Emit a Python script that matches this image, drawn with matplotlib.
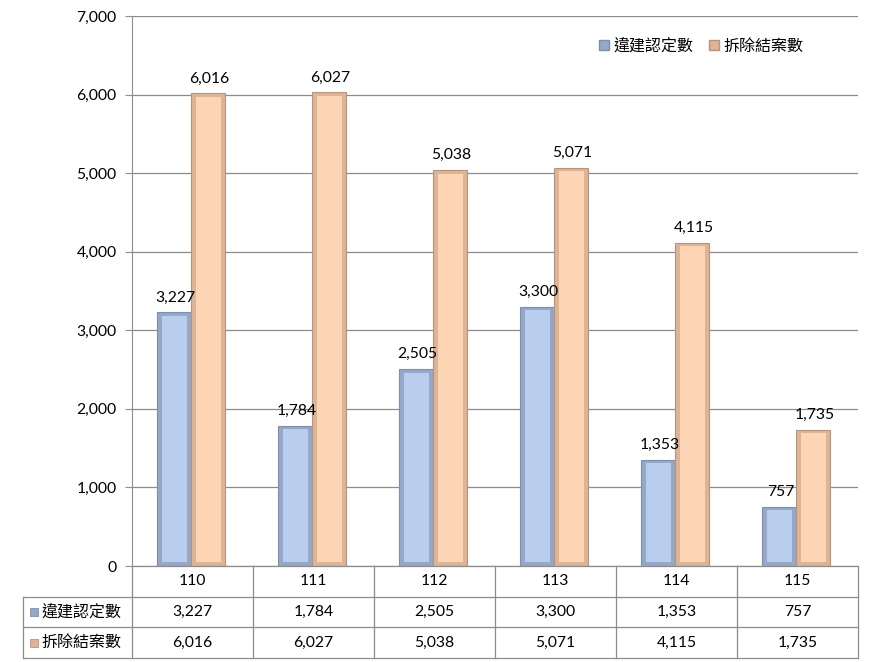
import matplotlib
matplotlib.use("Agg")
import matplotlib.pyplot as plt
import numpy as np
from matplotlib.patches import Patch

plt.rcParams['font.family'] = ['Lato', 'Noto Sans CJK TC', 'DejaVu Sans']

# data
years = ['110', '111', '112', '113', '114', '115']
series_names = ['違建認定數', '拆除結案數']
illegal = [3227, 1784, 2505, 3300, 1353, 757]
demolished = [6016, 6027, 5038, 5071, 4115, 1735]
yticks = [0, 1000, 2000, 3000, 4000, 5000, 6000, 7000]

face_colors = ['#B9CDEE', '#FDD5B4']
edge_colors = ['#7F8FAA', '#B8937A']
mid_colors = ['#95A8C8', '#DDB496']

num_fs = 11.3
cjk_fs = 11.5

W, H = 882, 662
fig = plt.figure(figsize=(W / 100, H / 100), dpi=100)

left, right, top, bottom = 132, 858, 16, 566
ax = fig.add_axes([left / W, 1 - bottom / H, (right - left) / W, (bottom - top) / H])

x = np.arange(len(years))
bw = 0.28
offsets = [-bw / 2, bw / 2]
dx = 0.035
dy = 45

for vals, off, fc, ec, mc in zip([illegal, demolished], offsets, face_colors, edge_colors, mid_colors):
    # bevel look: darker outer bar, lighter inner face
    ax.bar(x + off - 0.01, vals, width=bw, color=mc, edgecolor=ec, linewidth=0.8, zorder=3)
    inner = [max(v - 2 * dy, 0) for v in vals]
    ax.bar(x + off - 0.01, inner, width=bw - 2 * dx, bottom=dy, color=fc, linewidth=0, zorder=4)
    for xi, v in zip(x + off, vals):
        ax.text(xi, v + 100, f'{v:,}', ha='center', va='bottom', fontsize=num_fs, zorder=5)

ax.set_xlim(-0.5, len(years) - 0.5)
ax.set_ylim(0, 7000)
ax.set_yticks(yticks)
ax.set_yticklabels([f'{t:,}' for t in yticks], fontsize=num_fs)
ax.set_xticks([])
ax.yaxis.grid(True, color='#8C8C8C', linewidth=0.9, zorder=0)
ax.tick_params(axis='y', length=5, color='#8C8C8C', pad=6)
for s in ['top', 'right', 'bottom']:
    ax.spines[s].set_visible(False)
ax.spines['left'].set_color('#8C8C8C')

# legend
handles = [Patch(facecolor=mc, edgecolor=ec) for mc, ec in zip(mid_colors, edge_colors)]
ax.legend(handles, series_names, loc='upper right', bbox_to_anchor=(0.945, 0.985), ncol=2,
          frameon=False, fontsize=cjk_fs, handlelength=0.6, handleheight=0.6,
          handletextpad=0.3, columnspacing=1.0)

# data table
tb_top, tb_bottom = 566, 658
tax = fig.add_axes([left / W, 1 - tb_bottom / H, (right - left) / W, (tb_bottom - tb_top) / H])
tax.set_xlim(-0.5, len(years) - 0.5)
tax.set_ylim(3, 0)
tax.axis('off')
lc = '#8C8C8C'
xl = -0.5 - (left - 23) / ((right - left) / len(years))
tax.plot([-0.5, len(years) - 0.5], [0, 0], color=lc, lw=0.9, clip_on=False)
for r in [1, 2, 3]:
    tax.plot([xl, len(years) - 0.5], [r, r], color=lc, lw=0.9, clip_on=False)
for c in range(len(years) + 1):
    tax.plot([c - 0.5, c - 0.5], [0, 3], color=lc, lw=0.9, clip_on=False)
tax.plot([xl, xl], [1, 3], color=lc, lw=0.9, clip_on=False)

for i, y in enumerate(years):
    tax.text(i, 0.5, y, ha='center', va='center', fontsize=num_fs)
for r, (name, vals, mc, ec) in enumerate(zip(series_names, [illegal, demolished], mid_colors, edge_colors)):
    row = r + 1.5
    tax.scatter([xl + 0.09], [row], marker='s', s=28, color=mc, edgecolors=ec, linewidths=0.6, clip_on=False)
    tax.text(xl + 0.15, row, name, ha='left', va='center', fontsize=cjk_fs)
    for i, v in enumerate(vals):
        tax.text(i, row, f'{v:,}', ha='center', va='center', fontsize=num_fs)

fig.savefig('out.png', dpi=100)
